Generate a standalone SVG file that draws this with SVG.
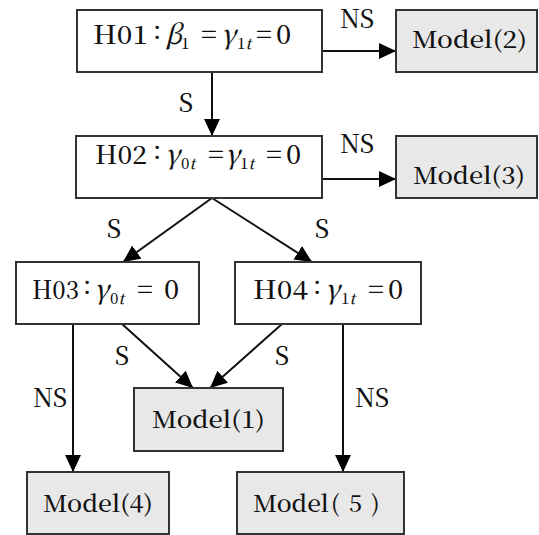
<svg xmlns="http://www.w3.org/2000/svg" width="539" height="535" viewBox="0 0 539 535" font-family="'Noto Serif CJK JP', 'DejaVu Serif', serif">
<style>
text{font-family:'Noto Serif CJK JP','DejaVu Serif',serif;fill:#111;font-weight:500}
.box{fill:#fff;stroke:#333;stroke-width:2}
.mbox{fill:#e8e8e8;stroke:#333;stroke-width:2}
.h{font-size:25px}
.m{font-size:23px}
.lbl{font-size:25px;text-anchor:middle}
.g{font-style:italic;font-size:27px}
.e{font-size:27px}
.sub{font-size:15px}
.c line{stroke:#111;stroke-width:2;marker-end:url(#ah)}
</style>
<defs>
<marker id="ah" markerUnits="userSpaceOnUse" markerWidth="17" markerHeight="16" refX="17" refY="8" orient="auto">
<path d="M0,0 L17,8 L0,16 z" fill="#000"/>
</marker>
</defs>
<rect width="539" height="535" fill="#fff"/>
<g class="c" id="connectors">
<line x1="212" y1="72" x2="212" y2="136"/>
<line x1="322" y1="51" x2="396" y2="51"/>
<line x1="322" y1="179" x2="396" y2="179"/>
<line x1="212" y1="198" x2="123" y2="262"/>
<line x1="212" y1="198" x2="312" y2="262"/>
<line x1="122" y1="324" x2="193" y2="388"/>
<line x1="282" y1="324" x2="210" y2="388"/>
<line x1="73" y1="324" x2="73" y2="472"/>
<line x1="343" y1="324" x2="343" y2="472"/>
</g>
<g id="labels">
<text class="lbl" x="186" y="112">S</text>
<text class="lbl" x="357" y="28">NS</text>
<text class="lbl" x="357" y="153">NS</text>
<text class="lbl" x="114" y="238">S</text>
<text class="lbl" x="322" y="238">S</text>
<text class="lbl" x="122" y="365">S</text>
<text class="lbl" x="282" y="365">S</text>
<text class="lbl" x="50" y="407">NS</text>
<text class="lbl" x="372" y="407">NS</text>
</g>
<g id="H01">
<rect class="box" x="77" y="10" width="245" height="62"/>
<text class="h" y="44"><tspan x="93" textLength="55" lengthAdjust="spacingAndGlyphs">H01</tspan><tspan x="153" y="39">:</tspan><tspan class="g" x="165" y="44">β</tspan><tspan class="sub" x="181" y="49">1</tspan><tspan class="e" x="201" y="44">=</tspan><tspan class="g" x="221">γ</tspan><tspan class="sub" x="237" y="49">1<tspan class="g sub">t</tspan></tspan><tspan class="e" x="256" y="44">=</tspan><tspan class="e" x="276">0</tspan></text>
</g>
<g id="Model2">
<rect class="mbox" x="396" y="10" width="141" height="62"/>
<text class="m" x="412" y="48" textLength="115" lengthAdjust="spacingAndGlyphs">Model(2)</text>
</g>
<g id="H02">
<rect class="box" x="76" y="136" width="246" height="62"/>
<text class="h" y="164"><tspan x="95" textLength="52" lengthAdjust="spacingAndGlyphs">H02</tspan><tspan x="153" y="159">:</tspan><tspan class="g" x="165" y="164">γ</tspan><tspan class="sub" x="181" y="169">0<tspan class="g sub">t</tspan></tspan><tspan class="e" x="208" y="164">=</tspan><tspan class="g" x="225">γ</tspan><tspan class="sub" x="240" y="169">1<tspan class="g sub">t</tspan></tspan><tspan class="e" x="266" y="164">=</tspan><tspan class="e" x="286">0</tspan></text>
</g>
<g id="Model3">
<rect class="mbox" x="396" y="136" width="141" height="62"/>
<text class="m" x="413" y="184" textLength="112" lengthAdjust="spacingAndGlyphs">Model(3)</text>
</g>
<g id="H03">
<rect class="box" x="16" y="262" width="183" height="62"/>
<text class="h" y="299"><tspan x="32" textLength="47" lengthAdjust="spacingAndGlyphs">H03</tspan><tspan x="83" y="294">:</tspan><tspan class="g" x="94" y="299">γ</tspan><tspan class="sub" x="110" y="304">0<tspan class="g sub">t</tspan></tspan><tspan class="e" x="137" y="299">=</tspan><tspan class="e" x="164">0</tspan></text>
</g>
<g id="H04">
<rect class="box" x="235" y="262" width="186" height="62"/>
<text class="h" y="299"><tspan x="253" textLength="55" lengthAdjust="spacingAndGlyphs">H04</tspan><tspan x="313" y="294">:</tspan><tspan class="g" x="325" y="299">γ</tspan><tspan class="sub" x="341" y="304">1<tspan class="g sub">t</tspan></tspan><tspan class="e" x="368" y="299">=</tspan><tspan class="e" x="388">0</tspan></text>
</g>
<g id="Model1">
<rect class="mbox" x="134" y="388" width="149" height="63"/>
<text class="m" x="152" y="428" textLength="113" lengthAdjust="spacingAndGlyphs">Model(1)</text>
</g>
<g id="Model4">
<rect class="mbox" x="27" y="472" width="142" height="62"/>
<text class="m" x="43" y="512" textLength="110" lengthAdjust="spacingAndGlyphs">Model(4)</text>
</g>
<g id="Model5">
<rect class="mbox" x="237" y="472" width="167" height="62"/>
<text class="m" x="253" y="512"><tspan textLength="76" lengthAdjust="spacingAndGlyphs">Model</tspan><tspan x="331">(</tspan><tspan x="349">5</tspan><tspan x="371">)</tspan></text>
</g>
</svg>
